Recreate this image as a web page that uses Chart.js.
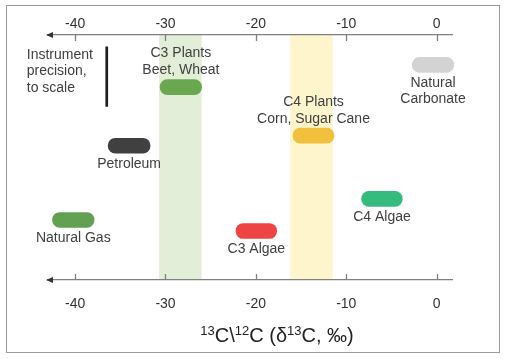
<!DOCTYPE html>
<html><head><meta charset="utf-8">
<script src="https://cdn.jsdelivr.net/npm/chart.js@4/dist/chart.umd.min.js"></script>
<style>html,body{margin:0;padding:0;background:#fff;overflow:hidden}</style>
</head><body>
<canvas id="c" width="509" height="359" style="display:block;width:509px;height:359px"></canvas>
<script>
// ---- data ----
const categories = ['C3 Plants','Petroleum','Natural Gas','C3 Algae','C4 Algae','C4 Plants','Natural Carbonate'];
const rangeStart = [-30.6, -36.35, -42.5, -22.2, -8.3, -15.9, -2.7];
const rangeEnd   = [-26.0, -31.7, -37.9, -17.7, -3.8, -11.35, 1.9];
const levels     = [7.87, 5.48, 2.45, 2.0, 3.31, 5.89, 8.78];
const colors     = ['#6aa84f','#404040','#62a052','#ee4444','#35bb7e','#f1c03c','#d3d3d3'];
const labelLines = [['C3 Plants','Beet, Wheat'],['Petroleum'],['Natural Gas'],['C3 Algae'],['C4 Algae'],['C4 Plants','Corn, Sugar Cane'],['Natural','Carbonate']];
const labelSide  = ['above','below','below','below','below','above','below'];
const tickValues = [-40,-30,-20,-10,0];
const bandStart  = [-30.7, -16.2];
const bandEnd    = [-26.0, -11.5];
const bandColors = ['#e3eed8','#fff5cc'];
const precisionX = -36.5;
const precisionLevels = [9.53, 7.07];
const noteLines  = ['Instrument','precision,','to scale'];
const titleParts = [['13', true], ['C\\', false], ['12', true], ['C (δ', false], ['13', true], ['C, ‰)', false]];

const FONT = '"Liberation Sans", Arial, sans-serif';
const AXIS_COLOR = '#808080';
const TEXT_COLOR = '#404040';

const decor = {
  id: 'decor',
  beforeDraw(chart) {
    const {ctx, chartArea: a, scales: {x}} = chart;
    ctx.save();
    ctx.fillStyle = '#fff';
    ctx.fillRect(0, 0, chart.width, chart.height);
    ctx.strokeStyle = '#9a9a9a';
    ctx.lineWidth = 1;
    ctx.strokeRect(6.5, 5.5, 493, 347);
    for (let i = 0; i < bandStart.length; i++) {
      const x1 = x.getPixelForValue(bandStart[i]);
      const x2 = x.getPixelForValue(bandEnd[i]);
      ctx.fillStyle = bandColors[i];
      ctx.fillRect(x1, a.top, x2 - x1, a.bottom - a.top);
    }
    ctx.restore();
  },
  afterDraw(chart) {
    const {ctx, chartArea: a, scales: {x, y}} = chart;
    ctx.save();
    // tick marks inside
    ctx.strokeStyle = AXIS_COLOR;
    ctx.lineWidth = 1.3;
    tickValues.forEach(v => {
      const px = Math.round(x.getPixelForValue(v)) + 0.5;
      ctx.beginPath(); ctx.moveTo(px, a.top); ctx.lineTo(px, a.top + 6); ctx.stroke();
      ctx.beginPath(); ctx.moveTo(px, a.bottom - 6); ctx.lineTo(px, a.bottom); ctx.stroke();
    });
    // arrows
    ctx.fillStyle = '#333';
    [a.top, a.bottom].forEach(yy => {
      ctx.beginPath();
      ctx.moveTo(a.left - 2, yy);
      ctx.lineTo(a.left + 5, yy - 3);
      ctx.lineTo(a.left + 5, yy + 3);
      ctx.closePath(); ctx.fill();
    });
    // labels
    ctx.font = '14px ' + FONT;
    ctx.fillStyle = TEXT_COLOR;
    ctx.textAlign = 'center';
    ctx.textBaseline = 'middle';
    const lh = 16.7;
    categories.forEach((c, i) => {
      const cx = (x.getPixelForValue(rangeStart[i]) + x.getPixelForValue(rangeEnd[i])) / 2;
      const cy = y.getPixelForValue(levels[i]);
      const lines = labelLines[i];
      lines.forEach((t, k) => {
        const ty = labelSide[i] === 'below' ? cy + 18 + k * lh : cy - 17 - (lines.length - 1 - k) * lh;
        ctx.fillText(t, cx, ty);
      });
    });
    // note
    ctx.textAlign = 'left';
    const nx = x.getPixelForValue(precisionX) - 80;
    const ny = y.getPixelForValue(precisionLevels[0]) + 8.5;
    noteLines.forEach((t, k) => ctx.fillText(t, nx, ny + k * 16.5));
    // axis title with superscripts
    const mainF = '20px ' + FONT, supF = '13px ' + FONT;
    let w = 0;
    titleParts.forEach(([t, sup]) => { ctx.font = sup ? supF : mainF; w += ctx.measureText(t).width; });
    let tx = 277 - w / 2;
    const base = 342;
    ctx.fillStyle = '#222';
    ctx.textBaseline = 'alphabetic';
    titleParts.forEach(([t, sup]) => {
      ctx.font = sup ? supF : mainF;
      ctx.fillText(t, tx, sup ? base - 7 : base);
      tx += ctx.measureText(t).width;
    });
    ctx.restore();
  }
};

new Chart(document.getElementById('c'), {
  type: 'bar',
  data: {
    datasets: [{
      type: 'bar',
      indexAxis: 'y',
      xAxisID: 'x', yAxisID: 'y',
      data: categories.map((c, i) => ({x: [rangeStart[i], rangeEnd[i]], y: levels[i]})),
      backgroundColor: colors,
      barThickness: 15,
      borderRadius: 8,
      borderSkipped: false,
      clip: false
    }, {
      type: 'line',
      indexAxis: 'x',
      xAxisID: 'x', yAxisID: 'y',
      data: precisionLevels.map(l => ({x: precisionX, y: l})),
      borderColor: '#1e1e1e',
      borderWidth: 2.7,
      pointRadius: 0,
      fill: false
    }]
  },
  options: {
    responsive: false,
    animation: false,
    devicePixelRatio: 1,
    indexAxis: 'y',
    layout: {padding: {left: 48, right: 57, top: 0, bottom: 0}},
    plugins: {legend: {display: false}, tooltip: {enabled: false}},
    scales: {
      x: {
        type: 'linear', position: 'top', min: -43, max: 1.7,
        afterBuildTicks: s => { s.ticks = tickValues.map(v => ({value: v})); },
        afterFit: s => { s.height = 35; },
        grid: {display: false, drawTicks: false},
        border: {display: true, color: AXIS_COLOR, width: 1.3},
        ticks: {padding: 2, color: '#333', font: {family: FONT, size: 14}}
      },
      x2: {
        type: 'linear', position: 'bottom', min: -43, max: 1.7,
        afterBuildTicks: s => { s.ticks = tickValues.map(v => ({value: v})); },
        afterFit: s => { s.height = 79; },
        grid: {display: false, drawTicks: false},
        border: {display: true, color: AXIS_COLOR, width: 1.3},
        ticks: {padding: 16, color: '#333', font: {family: FONT, size: 14}},
        title: {display: false, text: '13C\\12C (δ13C, ‰)'}
      },
      y: {type: 'linear', min: 0, max: 10, display: false, offset: false}
    }
  },
  plugins: [decor]
});
</script>
</body></html>
